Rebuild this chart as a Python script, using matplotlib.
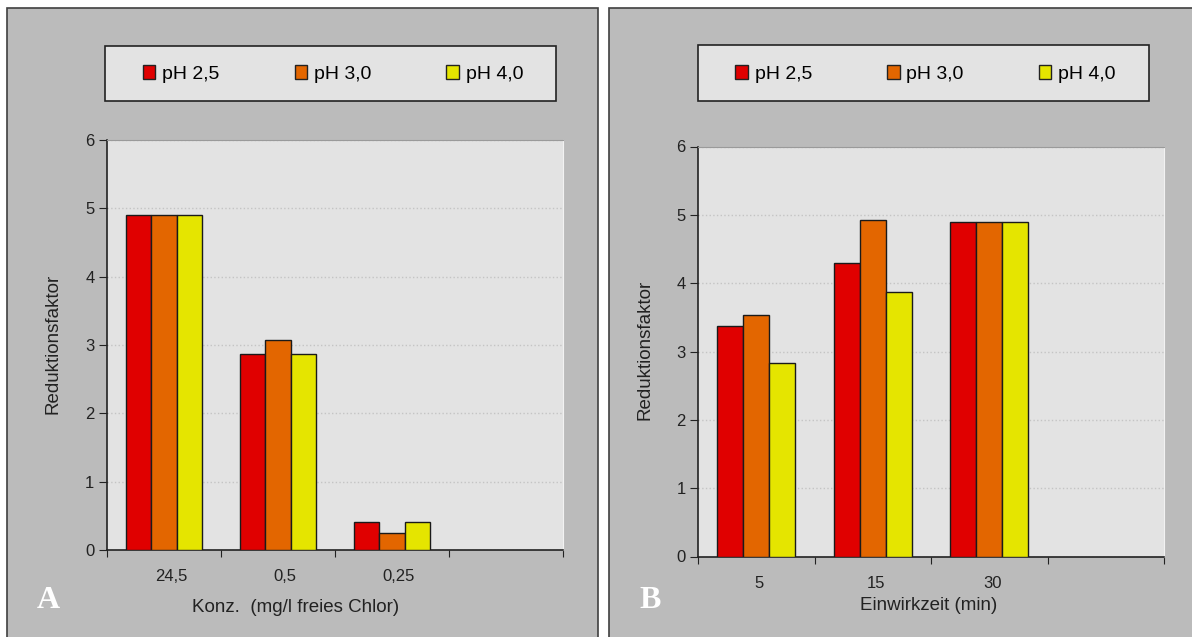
import numpy as np
import matplotlib.pyplot as plt
from matplotlib.patches import Rectangle, Patch
import matplotlib.transforms as mtransforms

plt.rcParams['font.family'] = ['Liberation Sans', 'DejaVu Sans']

# data
series = ['pH 2,5', 'pH 3,0', 'pH 4,0']
colors = ['#e00000', '#e36600', '#e5e500']
cats_a = ['24,5', '0,5', '0,25', '']
vals_a = [[4.9, 2.87, 0.41],
          [4.9, 3.07, 0.245],
          [4.9, 2.87, 0.41]]
cats_b = ['5', '15', '30', '']
vals_b = [[3.37, 4.30, 4.9],
          [3.53, 4.92, 4.9],
          [2.83, 3.87, 4.9]]

W, H = 1192, 637
fig = plt.figure(figsize=(W/100, H/100), dpi=100)
fig.patch.set_facecolor('white')

def fx(x):
    return x/W

def fy(y):
    return 1 - y/H

# panel frames
for x0, x1 in [(7.5, 597.5), (609, 1195)]:
    fig.add_artist(Rectangle((fx(x0), fy(645)), fx(x1-x0), (645-7.5)/H,
                             transform=fig.transFigure, facecolor='#bbbbbb',
                             edgecolor='#404040', lw=1.2, zorder=0))

def panel(left, top, right, bottom, cats, vals, lab_off, leg_box, xlabel, xlab_pos, letter, letter_pos, ylab_pos):
    ax = fig.add_axes([fx(left), fy(bottom), fx(right-left), (bottom-top)/H])
    ax.set_facecolor('#e3e3e3')
    n = len(cats)
    xs = np.arange(n - 1) + 0.5
    bw = 0.222
    for i, v in enumerate(vals):
        ax.bar(xs + (i-1)*bw, v, bw, color=colors[i], edgecolor='#1a1a1a', lw=1.0, zorder=3)
    ax.set_xlim(0, n)
    ax.set_ylim(0, 6)
    ax.set_yticks(range(7))
    ax.grid(axis='y', color='#c4c4c4', ls=':', lw=1.0, zorder=0)
    ax.set_xticks(range(n + 1))
    ax.set_xticklabels([])
    ax.set_xticks(np.arange(n) + 0.5, minor=True)
    ax.set_xticklabels(cats, minor=True)
    ax.tick_params(axis='x', which='minor', length=0, pad=14, labelsize=12, colors='#222222')
    ax.tick_params(axis='x', which='major', length=5, direction='out', color='#222222')
    ax.tick_params(axis='y', length=6, direction='out', labelsize=12, pad=3, colors='#222222')
    off = mtransforms.ScaledTranslation(lab_off/100, 0, fig.dpi_scale_trans)
    for t in ax.xaxis.get_minorticklabels():
        t.set_transform(t.get_transform() + off)
    for s in ['left', 'bottom']:
        ax.spines[s].set_color('#222222')
        ax.spines[s].set_linewidth(1.2)
    ax.spines['top'].set_color('#9a9a9a')
    ax.spines['right'].set_color('#f2f2f2')

    # legend box
    lx0, ly0, lx1, ly1 = leg_box
    fig.add_artist(Rectangle((fx(lx0), fy(ly1)), fx(lx1-lx0), (ly1-ly0)/H,
                             transform=fig.transFigure, facecolor='#e3e3e3',
                             edgecolor='#222222', lw=1.2, zorder=1))
    handles = [Patch(facecolor=c, edgecolor='#222222', lw=1.0) for c in colors]
    fig.legend(handles, series, loc='center', ncol=3, frameon=False,
               bbox_to_anchor=(fx(lx0 + 228), fy((ly0+ly1)/2 + 1)),
               fontsize=14, handlelength=0.65, handleheight=0.72, handletextpad=0.35,
               columnspacing=3.85, borderpad=0)

    fig.text(fx(xlab_pos[0]), fy(xlab_pos[1]), xlabel, ha='center', va='center',
             fontsize=13.5, color='#222222')
    fig.text(fx(ylab_pos[0]), fy(ylab_pos[1]), 'Reduktionsfaktor', ha='center', va='center',
             rotation=90, fontsize=13.5, color='#222222')
    fig.text(fx(letter_pos[0]), fy(letter_pos[1]), letter, ha='center', va='center',
             family='Liberation Serif', weight='bold', fontsize=23, color='white')
    return ax

panel(107, 140, 563, 550, cats_a, vals_a, 7, (105, 46, 555.5, 100.5),
      'Konz.  (mg/l freies Chlor)', (296, 608), 'A', (48, 600), (53, 344))
panel(698, 146.5, 1164, 556.5, cats_b, vals_b, 3, (697.5, 45.5, 1149, 100.5),
      'Einwirkzeit (min)', (929, 606), 'B', (650, 600), (645, 350))

fig.savefig('out.png', dpi=100)
